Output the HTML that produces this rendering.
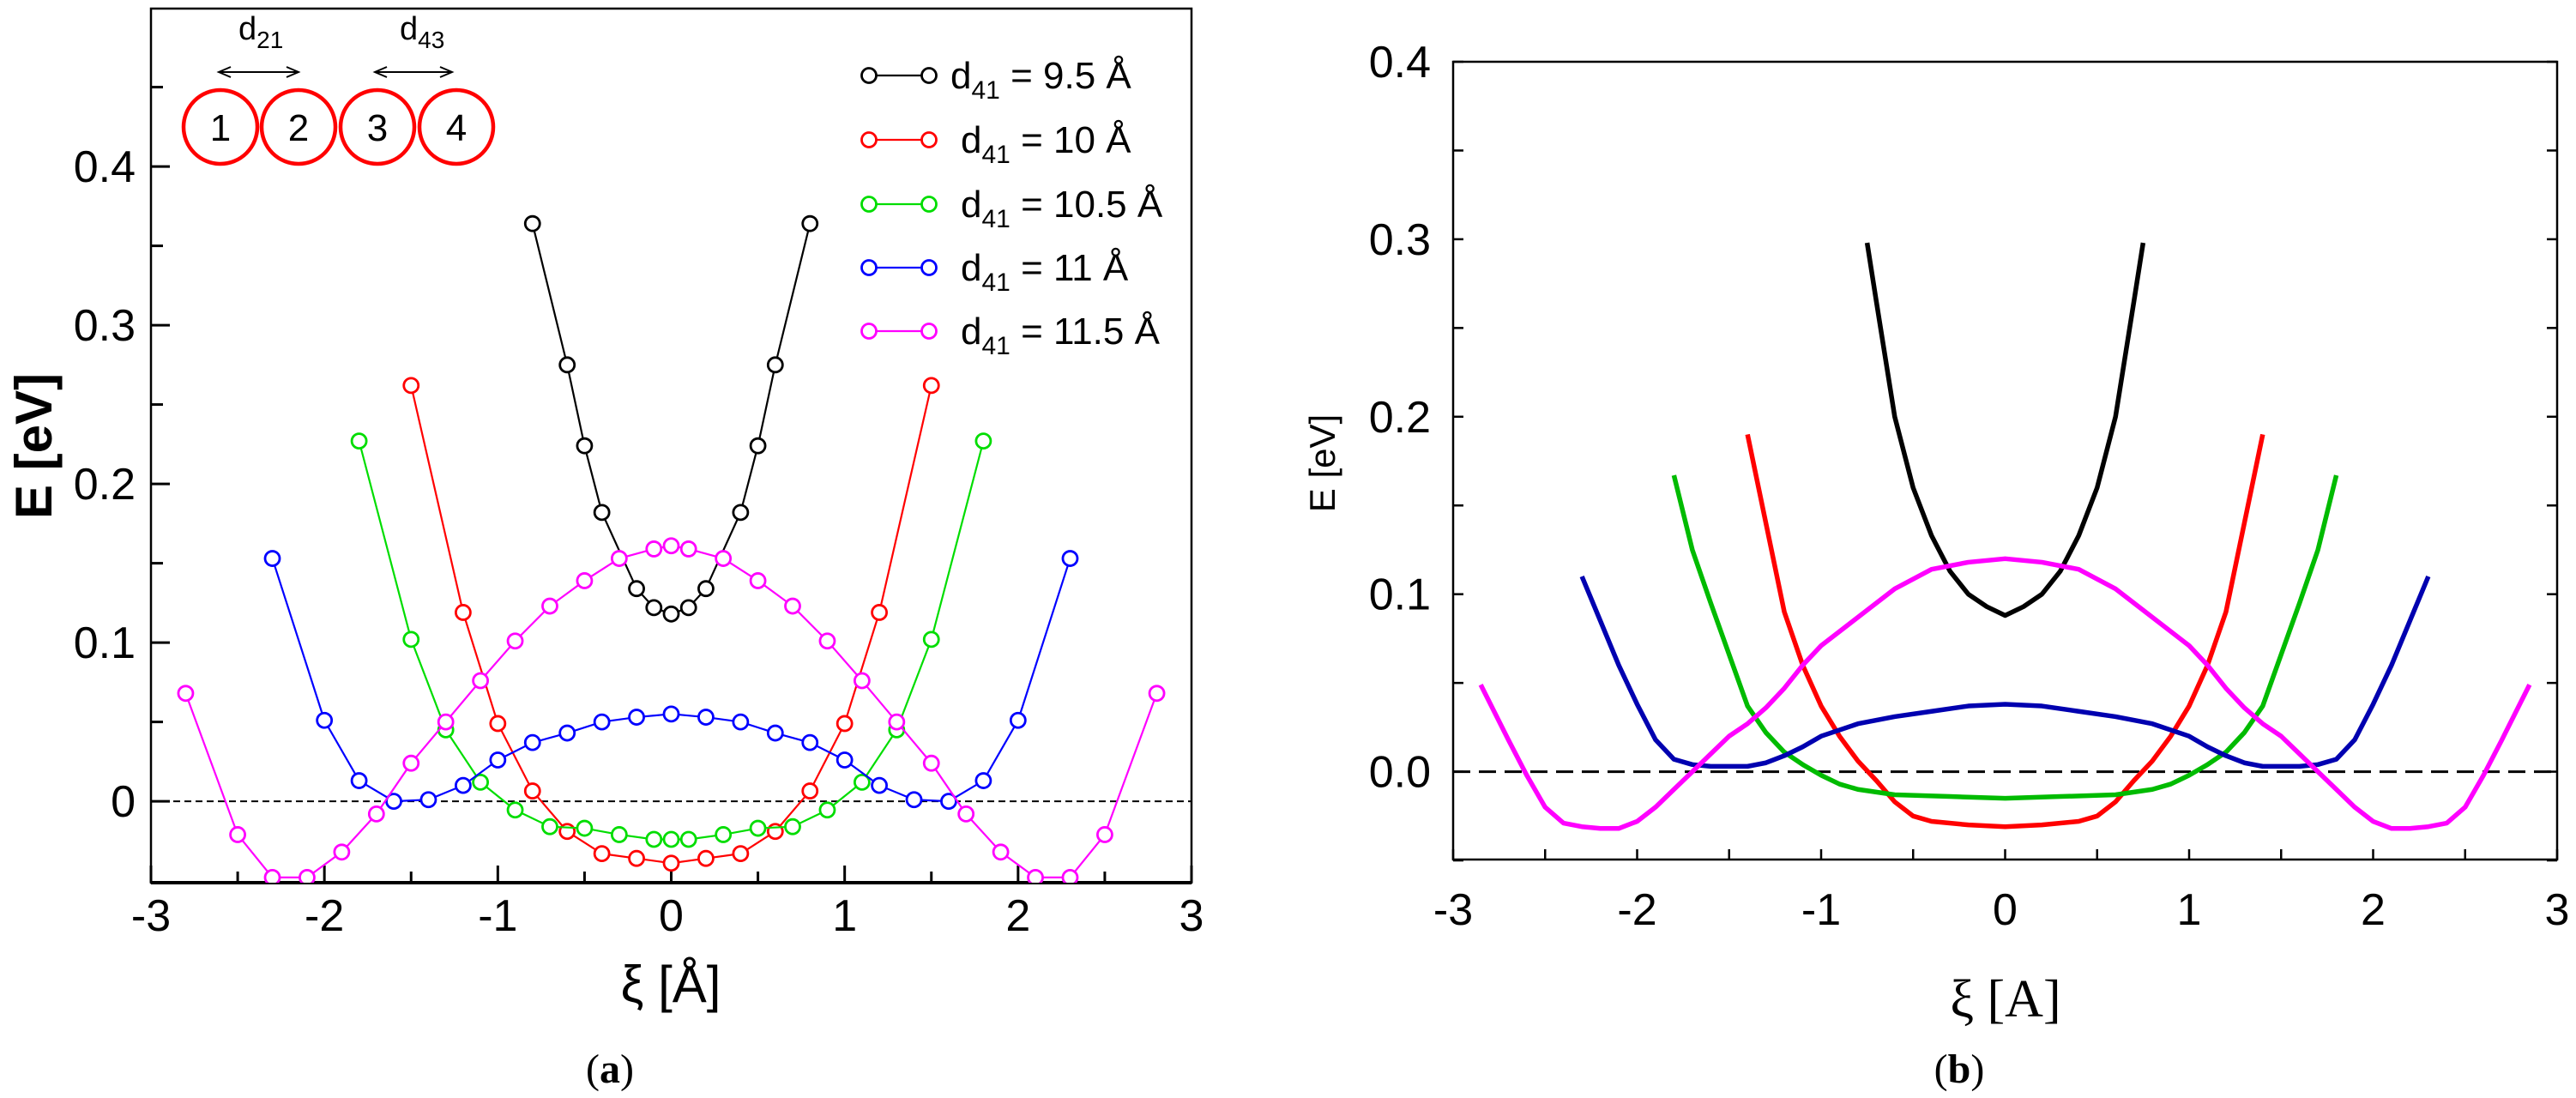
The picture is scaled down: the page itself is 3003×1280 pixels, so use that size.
<!DOCTYPE html>
<html><head><meta charset="utf-8">
<style>
html,body{margin:0;padding:0;background:#fff;overflow:hidden;}
svg{display:block;}
text{font-family:"Liberation Sans",sans-serif;}
text.serif{font-family:"Liberation Serif",serif;}
</style></head>
<body>
<svg id="fig" width="3003" height="1280" viewBox="0 0 3003 1280" xmlns="http://www.w3.org/2000/svg">
</svg>
<script>
// ---------- Panel (a) data ----------
const aBlackX = [-0.8,-0.6,-0.5,-0.4,-0.2,-0.1,0,0.1,0.2,0.4,0.5,0.6,0.8];
const aBlackY = [0.364,0.275,0.224,0.182,0.134,0.122,0.118,0.122,0.134,0.182,0.224,0.275,0.364];
const aRedX = [-1.5,-1.2,-1.0,-0.8,-0.6,-0.4,-0.2,0,0.2,0.4,0.6,0.8,1.0,1.2,1.5];
const aRedY = [0.262,0.119,0.049,0.0065,-0.019,-0.033,-0.036,-0.039,-0.036,-0.033,-0.019,0.0065,0.049,0.119,0.262];
const aGreenX = [-1.8,-1.5,-1.3,-1.1,-0.9,-0.7,-0.5,-0.3,-0.1,0,0.1,0.3,0.5,0.7,0.9,1.1,1.3,1.5,1.8];
const aGreenY = [0.227,0.102,0.045,0.012,-0.0055,-0.016,-0.017,-0.021,-0.024,-0.024,-0.024,-0.021,-0.017,-0.016,-0.0055,0.012,0.045,0.102,0.227];
const aBlueX = [-2.3,-2.0,-1.8,-1.6,-1.4,-1.2,-1.0,-0.8,-0.6,-0.4,-0.2,0,0.2,0.4,0.6,0.8,1.0,1.2,1.4,1.6,1.8,2.0,2.3];
const aBlueY = [0.153,0.051,0.013,0.0,0.001,0.010,0.026,0.037,0.043,0.050,0.053,0.055,0.053,0.050,0.043,0.037,0.026,0.010,0.001,0.0,0.013,0.051,0.153];
const aMagX = [-2.8,-2.5,-2.3,-2.1,-1.9,-1.7,-1.5,-1.3,-1.1,-0.9,-0.7,-0.5,-0.3,-0.1,0,0.1,0.3,0.5,0.7,0.9,1.1,1.3,1.5,1.7,1.9,2.1,2.3,2.5,2.8];
const aMagY = [0.068,-0.021,-0.048,-0.048,-0.032,-0.008,0.024,0.050,0.076,0.101,0.123,0.139,0.153,0.159,0.161,0.159,0.153,0.139,0.123,0.101,0.076,0.050,0.024,-0.008,-0.032,-0.048,-0.048,-0.021,0.068];
const aLegendLabels = ["9.5 Å","10 Å","10.5 Å","11 Å","11.5 Å"];
const aXTicks = [-3,-2,-1,0,1,2,3];
const aXTickLabels = ["-3","-2","-1","0","1","2","3"];
const aYTicks = [0,0.1,0.2,0.3,0.4];
const aYTickLabels = ["0","0.1","0.2","0.3","0.4"];

// ---------- Panel (b) data ----------
const bBlackX = [-0.75,-0.7,-0.6,-0.5,-0.4,-0.3,-0.2,-0.1,0,0.1,0.2,0.3,0.4,0.5,0.6,0.7,0.75];
const bBlackY = [0.298,0.265,0.200,0.160,0.133,0.113,0.100,0.093,0.088,0.093,0.100,0.113,0.133,0.160,0.200,0.265,0.298];
const bRedX = [-1.4,-1.3,-1.2,-1.1,-1.0,-0.9,-0.8,-0.7,-0.6,-0.5,-0.4,-0.2,0,0.2,0.4,0.5,0.6,0.7,0.8,0.9,1.0,1.1,1.2,1.3,1.4];
const bRedY = [0.19,0.14,0.09,0.06,0.037,0.02,0.006,-0.005,-0.017,-0.025,-0.028,-0.030,-0.031,-0.030,-0.028,-0.025,-0.017,-0.005,0.006,0.02,0.037,0.06,0.09,0.14,0.19];
const bGreenX = [-1.8,-1.7,-1.6,-1.5,-1.4,-1.3,-1.2,-1.1,-1.0,-0.9,-0.8,-0.6,-0.3,0,0.3,0.6,0.8,0.9,1.0,1.1,1.2,1.3,1.4,1.5,1.6,1.7,1.8];
const bGreenY = [0.167,0.125,0.095,0.066,0.037,0.022,0.011,0.004,-0.002,-0.007,-0.010,-0.013,-0.014,-0.015,-0.014,-0.013,-0.010,-0.007,-0.002,0.004,0.011,0.022,0.037,0.066,0.095,0.125,0.167];
const bBlueX = [-2.3,-2.2,-2.1,-2.0,-1.9,-1.8,-1.7,-1.6,-1.4,-1.3,-1.2,-1.1,-1.0,-0.8,-0.6,-0.4,-0.2,0,0.2,0.4,0.6,0.8,1.0,1.1,1.2,1.3,1.4,1.6,1.7,1.8,1.9,2.0,2.1,2.2,2.3];
const bBlueY = [0.110,0.085,0.060,0.038,0.018,0.007,0.004,0.003,0.003,0.005,0.009,0.014,0.020,0.027,0.031,0.034,0.037,0.038,0.037,0.034,0.031,0.027,0.020,0.014,0.009,0.005,0.003,0.003,0.004,0.007,0.018,0.038,0.060,0.085,0.110];
const bMagX = [-2.85,-2.7,-2.6,-2.5,-2.4,-2.3,-2.2,-2.1,-2.0,-1.9,-1.8,-1.7,-1.6,-1.5,-1.4,-1.3,-1.2,-1.1,-1.0,-0.8,-0.6,-0.4,-0.2,0,0.2,0.4,0.6,0.8,1.0,1.1,1.2,1.3,1.4,1.5,1.6,1.7,1.8,1.9,2.0,2.1,2.2,2.3,2.4,2.5,2.6,2.7,2.85];
const bMagY = [0.049,0.018,-0.002,-0.020,-0.029,-0.031,-0.032,-0.032,-0.028,-0.020,-0.010,0.0,0.010,0.020,0.027,0.036,0.047,0.060,0.071,0.087,0.103,0.114,0.118,0.120,0.118,0.114,0.103,0.087,0.071,0.060,0.047,0.036,0.027,0.020,0.010,0.0,-0.010,-0.020,-0.028,-0.032,-0.032,-0.031,-0.029,-0.020,-0.002,0.018,0.049];
const bXTicks = [-3,-2,-1,0,1,2,3];
const bXTickLabels = ["-3","-2","-1","0","1","2","3"];
const bYTicks = [0,0.1,0.2,0.3,0.4];
const bYTickLabels = ["0.0","0.1","0.2","0.3","0.4"];

const NS = "http://www.w3.org/2000/svg";
const svg = document.getElementById('fig');
function mk(tag, attrs, parent){
  const e = document.createElementNS(NS, tag);
  for (const k in attrs) e.setAttribute(k, attrs[k]);
  (parent||svg).appendChild(e);
  return e;
}

// ---------- Panel (a) ----------
const A = {l:176, r:1389, t:10, b:1029, x0:-3, x1:3, y0:-0.0513, y1:0.4995};
const ax = v => A.l + (v - A.x0)/(A.x1-A.x0)*(A.r-A.l);
const ay = v => A.b - (v - A.y0)/(A.y1-A.y0)*(A.b-A.t);
const gA = mk('g', {});


const clipA = mk('clipPath', {id:'clipA'}, gA);
mk('rect', {x:A.l, y:A.t, width:A.r-A.l, height:A.b-A.t}, clipA);
const frameA = mk('rect', {x:A.l, y:A.t, width:A.r-A.l, height:A.b-A.t, fill:'none', stroke:'#000', 'stroke-width':2.5}, gA);


const baseA = mk('line', {x1:A.l, x2:A.r, y1:A.b, y2:A.b, stroke:'#000', 'stroke-width':4}, gA);


const zA = mk('line', {x1:A.l, x2:A.r, y1:ay(0), y2:ay(0), stroke:'#000', 'stroke-width':2, 'stroke-dasharray':'8,5'}, gA);


for (let v=-3; v<=3.001; v+=0.5){
  const major = Math.abs(v-Math.round(v))<1e-6;
  const t = mk('line', {x1:ax(v), x2:ax(v), y1:A.b, y2:A.b-(major?20:13), stroke:'#000', 'stroke-width':3}, gA);
  
  
}
for (let v=0; v<=0.4501; v+=0.05){
  const major = Math.abs(v*10-Math.round(v*10))<1e-6;
  const t = mk('line', {x1:A.l, x2:A.l+(major?22:14), y1:ay(v), y2:ay(v), stroke:'#000', 'stroke-width':3}, gA);
  
  
}
aXTicks.forEach((v,i)=>{
  const t = mk('text', {x:ax(v), y:1085, 'font-size':52, 'text-anchor':'middle'}, gA);
  t.textContent = aXTickLabels[i];
  
  
});
aYTicks.forEach((v,i)=>{
  const t = mk('text', {x:158, y:ay(v)+18, 'font-size':52, 'text-anchor':'end'}, gA);
  t.textContent = aYTickLabels[i];
  
  
});
const xtA = mk('text', {x:782, y:1168, 'font-size':60, 'text-anchor':'middle'}, gA);
xtA.textContent = 'ξ [Å]';


const ytA = mk('text', {x:0, y:0, 'font-size':60, 'font-weight':'bold', 'text-anchor':'middle', transform:'translate(60,520) rotate(-90)'}, gA);
ytA.textContent = 'E [eV]';


const capA = mk('text', {x:711, y:1262, 'font-size':48, 'text-anchor':'middle', class:'serif'}, gA);
capA.innerHTML = '(<tspan font-weight="bold">a</tspan>)';



const aSeries = [
  {x:aBlackX, y:aBlackY, c:'#000', n:'series-d41-9.5'},
  {x:aRedX, y:aRedY, c:'#ff0000', n:'series-d41-10'},
  {x:aGreenX, y:aGreenY, c:'#00dd00', n:'series-d41-10.5'},
  {x:aBlueX, y:aBlueY, c:'#0000ff', n:'series-d41-11'},
  {x:aMagX, y:aMagY, c:'#ff00ff', n:'series-d41-11.5'}
];
const plotA = mk('g', {'clip-path':'url(#clipA)'}, gA);
aSeries.forEach(s=>{
  const pts = s.x.map((xv,i)=>ax(xv)+','+ay(s.y[i])).join(' ');
  const pl = mk('polyline', {points:pts, fill:'none', stroke:s.c, 'stroke-width':2.2}, plotA);
  
  
  s.x.forEach((xv,i)=>{
    const m = mk('circle', {cx:ax(xv), cy:ay(s.y[i]), r:8.5, fill:'#fff', stroke:s.c, 'stroke-width':2.8}, plotA);
    
    
  });
});
// legend
const legA = mk('g', {}, gA);


const legY = [88,163,238,312,386];
aSeries.forEach((s,i)=>{
  const e = mk('g', {}, legA);
  
  
  mk('line', {x1:1013, x2:1083, y1:legY[i], y2:legY[i], stroke:s.c, 'stroke-width':2.2}, e);
  mk('circle', {cx:1013, cy:legY[i], r:8.5, fill:'#fff', stroke:s.c, 'stroke-width':2.8}, e);
  mk('circle', {cx:1083, cy:legY[i], r:8.5, fill:'#fff', stroke:s.c, 'stroke-width':2.8}, e);
  const t = mk('text', {x:i===0?1108:1120, y:legY[i]+15, 'font-size':44}, e);
  t.innerHTML = 'd<tspan font-size="30" dy="12">41</tspan><tspan dy="-12"> = '+aLegendLabels[i]+'</tspan>';
});
// inset
const inset = mk('g', {}, gA);


[257,348,440,532].forEach((cx,i)=>{
  mk('circle', {cx:cx, cy:148, r:43, fill:'none', stroke:'#ff0000', 'stroke-width':4.5}, inset);
  const t = mk('text', {x:cx, y:164, 'font-size':44, 'text-anchor':'middle'}, inset);
  t.textContent = String(i+1);
});
[[255,348],[437,527]].forEach(p=>{
  mk('line', {x1:p[0], x2:p[1], y1:84, y2:84, stroke:'#000', 'stroke-width':2}, inset);
  mk('polyline', {points:(p[0]+14)+',78 '+p[0]+',84 '+(p[0]+14)+',90', fill:'none', stroke:'#000', 'stroke-width':2}, inset);
  mk('polyline', {points:(p[1]-14)+',78 '+p[1]+',84 '+(p[1]-14)+',90', fill:'none', stroke:'#000', 'stroke-width':2}, inset);
});
const d21 = mk('text', {x:278, y:46, 'font-size':38}, inset);
d21.innerHTML = 'd<tspan font-size="28" dy="10">21</tspan>';
const d43 = mk('text', {x:466, y:46, 'font-size':38}, inset);
d43.innerHTML = 'd<tspan font-size="28" dy="10">43</tspan>';

// ---------- Panel (b) ----------
const B = {l:1694, r:2981, t:72, b:1002, x0:-3, x1:3, y0:-0.0495, y1:0.4};
const bx = v => B.l + (v - B.x0)/(B.x1-B.x0)*(B.r-B.l);
const by = v => B.b - (v - B.y0)/(B.y1-B.y0)*(B.b-B.t);
const gB = mk('g', {});


const frameB = mk('rect', {x:B.l, y:B.t, width:B.r-B.l, height:B.b-B.t, fill:'none', stroke:'#000', 'stroke-width':2.5}, gB);


for (let v=-3; v<=3.001; v+=0.5){
  const t = mk('line', {x1:bx(v), x2:bx(v), y1:B.b, y2:B.b-12, stroke:'#000', 'stroke-width':2.5}, gB);
  
  
}
for (let v=-0.05; v<=0.4001; v+=0.05){
  [[B.l,B.l+12],[B.r,B.r-12]].forEach(p=>{
    const t = mk('line', {x1:p[0], x2:p[1], y1:by(v), y2:by(v), stroke:'#000', 'stroke-width':2.5}, gB);
    
    
  });
}
const zB = mk('line', {x1:B.l, x2:B.r, y1:by(0), y2:by(0), stroke:'#000', 'stroke-width':3, 'stroke-dasharray':'20,10'}, gB);


bXTicks.forEach((v,i)=>{
  const t = mk('text', {x:bx(v), y:1078, 'font-size':52, 'text-anchor':'middle'}, gB);
  t.textContent = bXTickLabels[i];
  
  
});
bYTicks.forEach((v,i)=>{
  const t = mk('text', {x:1668, y:by(v)+18, 'font-size':52, 'text-anchor':'end'}, gB);
  t.textContent = bYTickLabels[i];
  
  
});
const xtB = mk('text', {x:2338, y:1185, 'font-size':62, 'text-anchor':'middle', class:'serif'}, gB);
xtB.textContent = 'ξ [A]';


const ytB = mk('text', {x:0, y:0, 'font-size':42, 'text-anchor':'middle', transform:'translate(1556,540) rotate(-90)'}, gB);
ytB.textContent = 'E [eV]';


const capB = mk('text', {x:2284, y:1262, 'font-size':48, 'text-anchor':'middle', class:'serif'}, gB);
capB.innerHTML = '(<tspan font-weight="bold">b</tspan>)';


const bSeries = [
  {x:bBlackX, y:bBlackY, c:'#000', n:'curve-black'},
  {x:bRedX, y:bRedY, c:'#ff0000', n:'curve-red'},
  {x:bGreenX, y:bGreenY, c:'#00bb00', n:'curve-green'},
  {x:bBlueX, y:bBlueY, c:'#0000b0', n:'curve-blue'},
  {x:bMagX, y:bMagY, c:'#ff00ff', n:'curve-magenta'}
];
bSeries.forEach(s=>{
  const pts = s.x.map((xv,i)=>bx(xv)+','+by(s.y[i])).join(' ');
  const pl = mk('polyline', {points:pts, fill:'none', stroke:s.c, 'stroke-width':5.5, 'stroke-linejoin':'round'}, gB);
  
  
});
</script>
</body></html>
